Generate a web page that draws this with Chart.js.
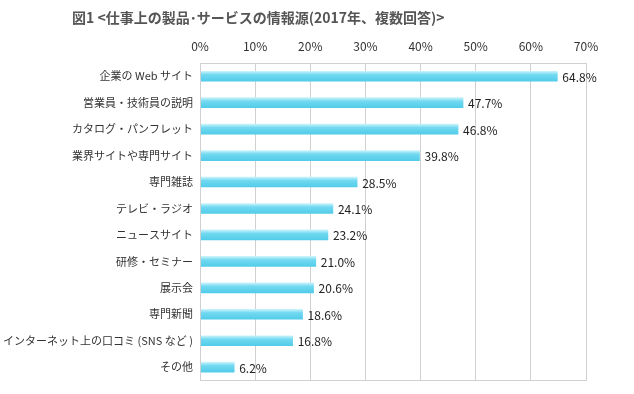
<!DOCTYPE html>
<html><head><meta charset="utf-8">
<script src="https://cdn.jsdelivr.net/npm/chart.js@4/dist/chart.umd.min.js"></script>
<style>html,body{margin:0;padding:0;background:#fff}#wrap{width:634px;height:394px}</style>
</head><body><div id="wrap"><canvas id="c" width="634" height="394"></canvas></div>
<script>
const categories = ["企業の Web サイト","営業員・技術員の説明","カタログ・パンフレット","業界サイトや専門サイト","専門雑誌","テレビ・ラジオ","ニュースサイト","研修・セミナー","展示会","専門新聞","インターネット上の口コミ (SNS など )","その他"];
const values = [64.8,47.7,46.8,39.8,28.5,24.1,23.2,21.0,20.6,18.6,16.8,6.2];
const tickValues = [0,10,20,30,40,50,60,70];
const titleText = "図1 <仕事上の製品･サービスの情報源(2017年、複数回答)>";
const FONT = "'Noto Sans CJK JP','Noto Sans',sans-serif";

const decor = {
  id:'decor',
  beforeDatasetsDraw(chart){
    const ctx = chart.ctx;
    chart.getDatasetMeta(0).data.forEach(el=>{
      const h = el.height;
      const g = ctx.createLinearGradient(0, el.y - h/2, 0, el.y + h/2);
      g.addColorStop(0,'#c8f3fb');
      g.addColorStop(0.35,'#72d9f1');
      g.addColorStop(1,'#52cce9');
      el.options = Object.assign({}, el.options, {backgroundColor:g});
    });
  },
  afterDatasetsDraw(chart){
    const ctx = chart.ctx, a = chart.chartArea;
    ctx.save();
    ctx.strokeStyle = '#d0d0d0'; ctx.lineWidth = 1;
    ctx.strokeRect(Math.round(a.left)+0.5, Math.round(a.top)+0.5, Math.round(a.right-a.left), Math.round(a.bottom-a.top));
    ctx.fillStyle = '#222';
    ctx.font = '12px ' + FONT;
    ctx.textBaseline = 'middle';
    ctx.textAlign = 'left';
    chart.getDatasetMeta(0).data.forEach((el,i)=>{
      ctx.fillText(values[i].toFixed(1)+'%', el.x + 5, el.y + 1);
    });
    ctx.fillStyle = '#555';
    ctx.font = 'bold 14px ' + FONT;
    ctx.fillText(titleText, 72, 18);
    ctx.restore();
  }
};

new Chart(document.getElementById('c'), {
  type:'bar',
  data:{labels:categories, datasets:[{data:values, barThickness:10, borderWidth:0}]},
  options:{
    indexAxis:'y', responsive:false, animation:false,
    layout:{padding:{left:0,right:48,top:35,bottom:6}},
    plugins:{ legend:{display:false}, tooltip:{enabled:false}, title:{display:false} },
    scales:{
      x:{position:'top', min:0, max:70,
        afterBuildTicks(s){ s.ticks = tickValues.map(v=>({value:v})); },
        afterFit(s){ s.height = 28; },
        grid:{color:'#d0d0d0', drawTicks:false}, border:{display:false},
        ticks:{padding:9, color:'#333', font:{family:FONT,size:12}, callback:v=>v+'%'}},
      y:{afterFit(s){ s.width = 200; },
        grid:{display:false, drawTicks:false}, border:{display:false},
        ticks:{padding:7, color:'#333', font:{family:FONT,size:11}}}
    }
  },
  plugins:[decor]
});
</script></body></html>
